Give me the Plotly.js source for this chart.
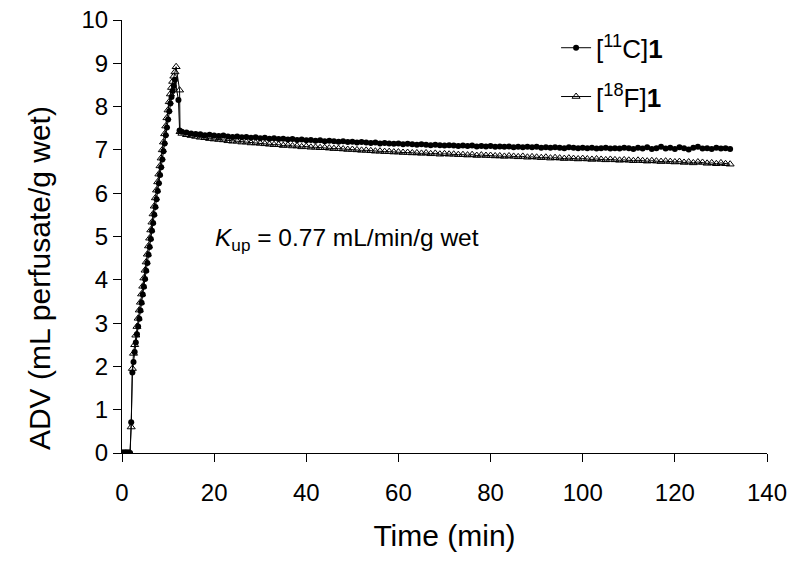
<!DOCTYPE html>
<html>
<head>
<meta charset="utf-8">
<script src="https://cdn.plot.ly/plotly-3.0.1.min.js"></script>
<style>html,body{margin:0;padding:0;background:#fff;}#chart{width:800px;height:566px;}</style>
</head>
<body>
<div id="chart"></div>
<script>
// [11C]1 : rising phase (time, value)
const c11RiseTime = [0,0.25,0.5,0.75,1.0,1.25,1.5,1.75,2.0,2.25,2.5,2.75,3.0,3.25,3.5,3.75,4.0,4.25,4.5,4.75,5.0,5.25,5.5,5.75,6.0,6.25,6.5,6.75,7.0,7.25,7.5,7.75,8.0,8.25,8.5,8.75,9.0,9.25,9.5,9.75,10.0,10.25,10.5,10.75,11.0,11.25,11.5,12.25,12.5];
const c11RiseValue = [0,0,0,0,0,0,0,0,0.71,1.86,2.10,2.33,2.55,2.74,2.92,3.10,3.29,3.47,3.66,3.84,4.02,4.21,4.39,4.58,4.76,4.94,5.13,5.31,5.50,5.68,5.86,6.05,6.23,6.42,6.60,6.78,6.97,7.15,7.34,7.52,7.70,7.89,8.07,8.22,8.36,8.48,8.62,8.15,7.45];
// [11C]1 : plateau, minutes 13..132
const c11PlateauTime = [13,14,15,16,17,18,19,20,21,22,23,24,25,26,27,28,29,30,31,32,33,34,35,36,37,38,39,40,41,42,43,44,45,46,47,48,49,50,51,52,53,54,55,56,57,58,59,60,61,62,63,64,65,66,67,68,69,70,71,72,73,74,75,76,77,78,79,80,81,82,83,84,85,86,87,88,89,90,91,92,93,94,95,96,97,98,99,100,101,102,103,104,105,106,107,108,109,110,111,112,113,114,115,116,117,118,119,120,121,122,123,124,125,126,127,128,129,130,131,132];
const c11PlateauValue = [7.42,7.40,7.38,7.37,7.36,7.34,7.35,7.33,7.32,7.33,7.31,7.30,7.31,7.29,7.30,7.28,7.29,7.27,7.28,7.26,7.27,7.25,7.26,7.24,7.25,7.23,7.24,7.22,7.23,7.21,7.22,7.20,7.21,7.20,7.19,7.20,7.18,7.19,7.17,7.18,7.17,7.16,7.17,7.15,7.16,7.15,7.14,7.15,7.13,7.14,7.13,7.12,7.13,7.12,7.11,7.12,7.11,7.10,7.11,7.10,7.09,7.10,7.09,7.10,7.08,7.09,7.08,7.09,7.07,7.08,7.07,7.08,7.06,7.07,7.06,7.07,7.06,7.07,7.05,7.06,7.05,7.06,7.05,7.04,7.06,7.05,7.04,7.05,7.04,7.05,7.03,7.04,7.05,7.03,7.04,7.03,7.05,7.04,7.02,7.05,7.03,7.06,7.02,7.04,7.07,7.03,7.05,7.02,7.06,7.04,7.01,7.05,7.07,7.03,7.04,7.02,7.05,7.03,7.04,7.02];

// [18F]1 : rising phase
const f18RiseTime = [0,0.25,0.5,0.75,1.0,1.25,1.5,1.75,2.0,2.25,2.5,2.75,3.0,3.25,3.5,3.75,4.0,4.25,4.5,4.75,5.0,5.25,5.5,5.75,6.0,6.25,6.5,6.75,7.0,7.25,7.5,7.75,8.0,8.25,8.5,8.75,9.0,9.25,9.5,9.75,10.0,10.25,10.5,10.75,11.0,11.25,11.5,11.75,12.5,12.6];
const f18RiseValue = [0,0,0,0,0,0,0,0,0.60,1.95,2.30,2.50,2.72,2.92,3.11,3.30,3.48,3.67,3.85,4.04,4.22,4.41,4.59,4.78,4.96,5.15,5.33,5.52,5.70,5.89,6.07,6.26,6.44,6.63,6.81,7.00,7.18,7.37,7.55,7.74,7.92,8.11,8.29,8.44,8.58,8.70,8.80,8.92,8.38,7.42];
// [18F]1 : plateau, minutes 13..132
const f18PlateauTime = c11PlateauTime;
const f18PlateauValue = [7.38,7.35,7.33,7.31,7.29,7.28,7.26,7.25,7.24,7.23,7.21,7.20,7.20,7.18,7.18,7.16,7.16,7.15,7.14,7.13,7.12,7.12,7.10,7.11,7.09,7.09,7.07,7.08,7.06,7.06,7.05,7.05,7.04,7.03,7.03,7.02,7.01,7.01,7.00,6.99,6.99,6.98,6.97,6.97,6.96,6.96,6.95,6.95,6.94,6.94,6.93,6.93,6.92,6.93,6.91,6.92,6.90,6.91,6.90,6.90,6.89,6.89,6.88,6.89,6.87,6.88,6.87,6.87,6.86,6.86,6.85,6.86,6.85,6.84,6.85,6.83,6.84,6.83,6.82,6.83,6.81,6.82,6.81,6.80,6.81,6.80,6.79,6.80,6.79,6.78,6.79,6.78,6.77,6.78,6.77,6.76,6.77,6.76,6.75,6.76,6.75,6.74,6.75,6.74,6.73,6.74,6.73,6.72,6.73,6.71,6.72,6.70,6.72,6.71,6.69,6.70,6.68,6.70,6.68,6.67];

const seriesNames = ['[<sup>11</sup>C]<b>1</b>', '[<sup>18</sup>F]<b>1</b>'];
const annotationText = '<i>K</i><sub>up</sub> = 0.77 mL/min/g wet';
const xTitle = 'Time (min)';
const yTitle = 'ADV (mL perfusate/g wet)';

const FONT = 'Liberation Sans, Arial, sans-serif';

const traceC = {
  x: c11RiseTime.concat(c11PlateauTime),
  y: c11RiseValue.concat(c11PlateauValue),
  name: seriesNames[0],
  legendgroup: 'a', legendrank: 1,
  mode: 'lines+markers',
  line: {color: '#000', width: 1},
  marker: {symbol: 'circle', size: 6, color: '#000'},
  type: 'scatter'
};
const traceF = {
  x: f18RiseTime.concat(f18PlateauTime),
  y: f18RiseValue.concat(f18PlateauValue),
  name: seriesNames[1],
  legendgroup: 'b', legendrank: 2,
  mode: 'lines+markers',
  line: {color: '#000', width: 1},
  marker: {symbol: 'triangle-up-open', size: 7, color: '#000', line: {width: 1, color: '#000'}},
  type: 'scatter'
};

const data = [traceF, traceC];

const layout = {
  width: 800, height: 566,
  margin: {l: 122, r: 33, t: 20, b: 113},
  paper_bgcolor: '#fff', plot_bgcolor: '#fff',
  font: {family: FONT, color: '#000', size: 24},
  showlegend: true,
  legend: {
    x: 0.673, y: 0.99, xanchor: 'left', yanchor: 'top',
    font: {family: FONT, size: 26, color: '#000'},
    traceorder: 'grouped',
    tracegroupgap: 12,
    itemwidth: 30,
    bgcolor: 'rgba(0,0,0,0)'
  },
  xaxis: {
    range: [0, 140], dtick: 20, tick0: 0,
    showgrid: false, zeroline: false,
    showline: true, linecolor: '#000', linewidth: 1,
    ticks: 'outside', ticklen: 8, tickcolor: '#000',
    ticklabelstandoff: 10,
    tickfont: {family: FONT, size: 24, color: '#000'},
    title: {text: xTitle, font: {family: FONT, size: 30, color: '#000'}, standoff: 20}
  },
  yaxis: {
    range: [0, 10], dtick: 1, tick0: 0,
    showgrid: false, zeroline: false,
    showline: true, linecolor: '#000', linewidth: 1,
    ticks: 'outside', ticklen: 8, tickcolor: '#000',
    tickfont: {family: FONT, size: 24, color: '#000'},
    title: {text: ''}
  },
  annotations: [
    {
      x: 19.7, y: 4.92, xref: 'x', yref: 'y',
      xanchor: 'left', yanchor: 'middle',
      text: annotationText, showarrow: false,
      font: {family: FONT, size: 24.5, color: '#000'}
    },
    {
      x: -0.128, y: 0.405, xref: 'paper', yref: 'paper',
      xanchor: 'center', yanchor: 'middle', textangle: -90,
      text: yTitle, showarrow: false,
      font: {family: FONT, size: 30, color: '#000'}
    }
  ]
};

Plotly.newPlot('chart', data, layout, {staticPlot: true, displayModeBar: false});
</script>
</body>
</html>
